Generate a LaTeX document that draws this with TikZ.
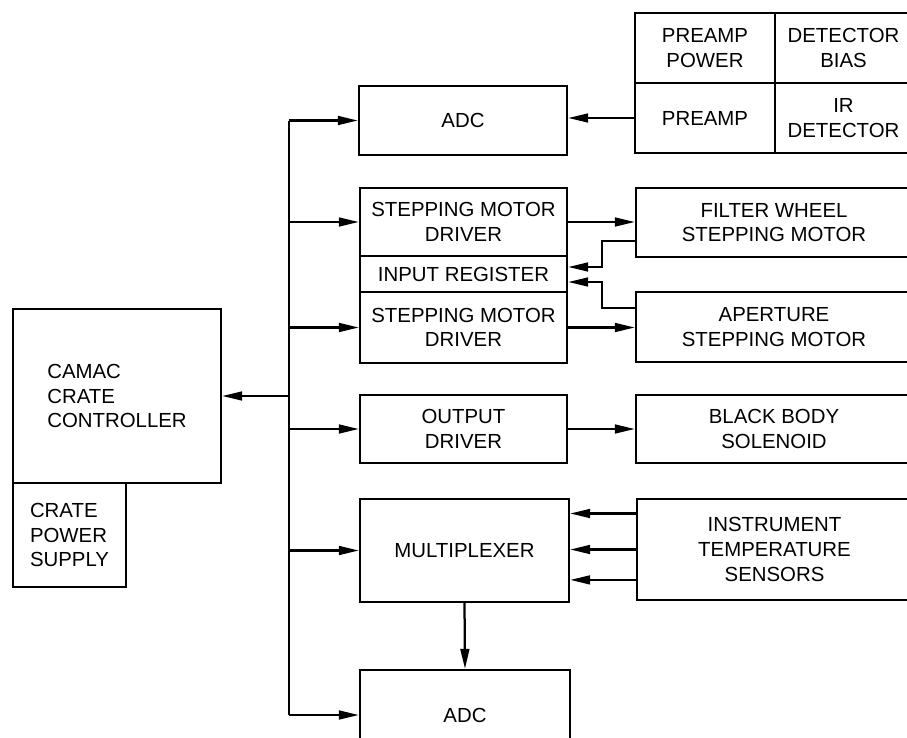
\documentclass[tikz,border=0pt]{standalone}
\usepackage{fontspec}
\setmainfont{Liberation Sans}
\usetikzlibrary{arrows.meta}
\begin{document}
\begin{tikzpicture}[x=0.025cm, y=-0.025cm, line width=1.6pt,
  blk/.style={draw, align=center, inner sep=0pt, font=\fontsize{14.5}{17.5}\selectfont},
  arr/.style={-{Triangle[length=5mm, width=2.2mm]}}]
\useasboundingbox (0,0) rectangle (907,737);
\clip (0,0) rectangle (907,737);
% left side
\node[blk, align=left, minimum width=5.2cm, minimum height=4.35cm] (camac) at (117,396) {CAMAC\\CRATE\\CONTROLLER};
\node[blk, align=left, minimum width=2.825cm, minimum height=2.6cm] (cps) at (69.5,535) {CRATE\\POWER\\SUPPLY};
% middle column
\node[blk, minimum width=5.2cm, minimum height=1.725cm] (adcA) at (463,120.5) {ADC};
\node[blk, minimum width=5.175cm, minimum height=1.7cm] (smdA) at (463.5,222) {STEPPING MOTOR\\DRIVER};
\node[blk, minimum width=5.175cm, minimum height=0.9cm] (inreg) at (463.5,274) {INPUT REGISTER};
\node[blk, minimum width=5.175cm, minimum height=1.775cm] (smdB) at (463.5,327.5) {STEPPING MOTOR\\DRIVER};
\node[blk, minimum width=5.175cm, minimum height=1.7cm] (od) at (463.5,429) {OUTPUT\\DRIVER};
\node[blk, minimum width=5.225cm, minimum height=2.575cm] (mux) at (464.5,550.5) {MULTIPLEXER};
\node[blk, minimum width=5.25cm, minimum height=2.25cm] (adcB) at (465,715) {ADC};
% right column
\node[blk, minimum width=3.5cm, minimum height=1.75cm] (pp) at (705,48) {PREAMP\\POWER};
\node[blk, minimum width=3.425cm, minimum height=1.75cm] (db) at (843.5,48) {DETECTOR\\BIAS};
\node[blk, minimum width=3.5cm, minimum height=1.75cm] (pa) at (705,118) {PREAMP};
\node[blk, minimum width=3.425cm, minimum height=1.75cm] (ir) at (843.5,118) {IR\\DETECTOR};
\node[blk, minimum width=6.9cm, minimum height=1.725cm] (fw) at (774,222.5) {FILTER WHEEL\\STEPPING MOTOR};
\node[blk, minimum width=6.9cm, minimum height=1.75cm] (ap) at (774,327) {APERTURE\\STEPPING MOTOR};
\node[blk, minimum width=6.9cm, minimum height=1.7cm] (bb) at (774,429) {BLACK BODY\\SOLENOID};
\node[blk, minimum width=6.875cm, minimum height=2.525cm] (sens) at (774.5,549.5) {INSTRUMENT\\TEMPERATURE\\SENSORS};
% bus
\coordinate (busT) at (289,120.5);
\coordinate (busB) at (289,715);
\draw (busT) -- (busB);
\draw[arr] (busT) -- (adcA.west);
\draw[arr] (smdA.west -| busT) -- (smdA.west);
\draw[arr] (smdB.west -| busT) -- (smdB.west);
\draw[arr] (od.west -| busT) -- (od.west);
\draw[arr] (mux.west -| busT) -- (mux.west);
\draw[arr] (busB) -- (adcB.west);
\draw[arr] (camac.east -| busT) -- (camac.east);
% signals
\draw[arr] (pa.west) -- (pa.west -| adcA.east);
\draw[arr] (smdA.east) -- (smdA.east -| fw.west);
\draw[arr] (smdB.east) -- (smdB.east -| ap.west);
\draw[arr] ([yshift=-0.46cm]fw.west) -- ++(-0.825cm,0) |- ([yshift=0.175cm]inreg.east);
\draw[arr] ([yshift=0.475cm]ap.west) -- ++(-0.825cm,0) |- ([yshift=-0.2cm]inreg.east);
\draw[arr] (od.east) -- (bb.west);
\draw[arr] ([yshift=0.9cm]sens.west) -- ([yshift=0.9cm]sens.west -| mux.east);
\draw[arr] (sens.west) -- (sens.west -| mux.east);
\draw[arr] ([yshift=-0.76cm]sens.west) -- ([yshift=-0.76cm]sens.west -| mux.east);
\draw[arr] (mux.south) -- (adcB.north);
\end{tikzpicture}
\end{document}
